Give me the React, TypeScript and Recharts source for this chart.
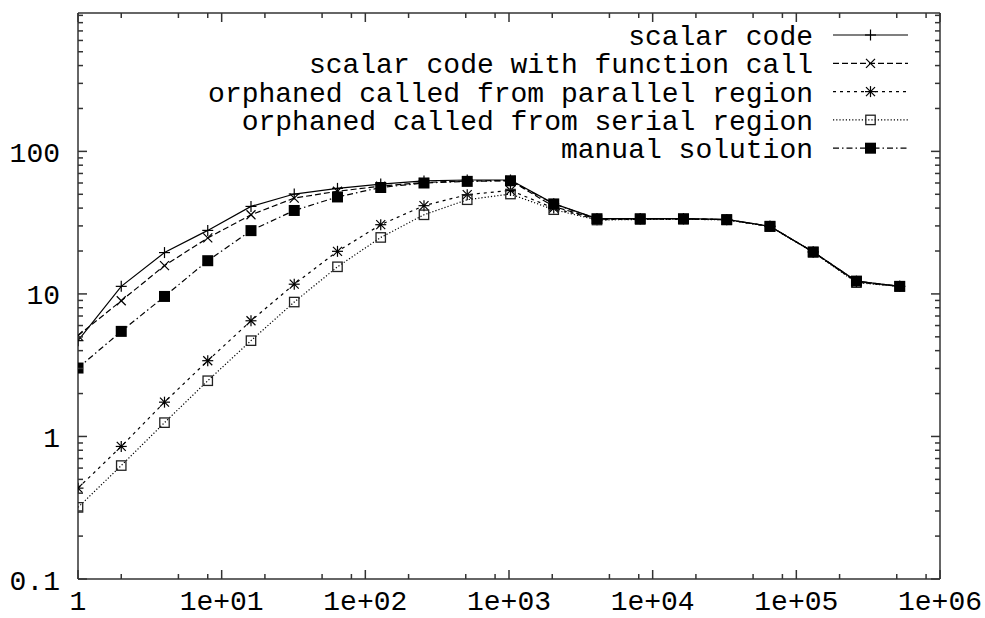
import React from 'react';
import { LineChart, Line, XAxis, YAxis } from 'recharts';

// ---- data ----
const sizes = [1, 2, 4, 8, 16, 32, 64, 128, 256, 512, 1024, 2048, 4096, 8192, 16384, 32768, 65536, 131072, 262144, 524288];
const scalarCode = [4.7, 11.3, 19.5, 27.9, 41.1, 50.2, 55, 59, 62, 63, 63, 43, 33.8, 33.8, 33.8, 33.3, 29.8, 19.7, 12.3, 11.3];
const scalarFuncCall = [5.1, 8.95, 15.8, 24.7, 35.9, 47, 52.5, 57, 60.5, 62, 62.5, 41, 33.5, 33.6, 33.6, 33.2, 29.8, 19.7, 12.2, 11.3];
const orphanedParallel = [0.434, 0.851, 1.74, 3.4, 6.48, 11.7, 19.9, 30.6, 41.6, 49.7, 53.2, 40, 33.2, 33.4, 33.5, 33.2, 29.8, 19.7, 12.1, 11.3];
const orphanedSerial = [0.318, 0.625, 1.25, 2.46, 4.7, 8.77, 15.5, 24.9, 35.9, 45.8, 50.2, 39, 33, 33.3, 33.4, 33.1, 29.7, 19.6, 12.0, 11.3];
const manualSolution = [3.02, 5.46, 9.6, 17.1, 27.8, 38.5, 47.9, 55.8, 60, 61.6, 62.2, 42.8, 33.7, 33.7, 33.7, 33.2, 29.8, 19.7, 12.3, 11.3];

const seriesNames = [
  'scalar code',
  'scalar code with function call',
  'orphaned called from parallel region',
  'orphaned called from serial region',
  'manual solution',
];
const seriesKeys = ['s0', 's1', 's2', 's3', 's4'];
const seriesValues = [scalarCode, scalarFuncCall, orphanedParallel, orphanedSerial, manualSolution];
const seriesDash = ['', '6 3', '3 4', '1.2 2', '6 3 1.5 3'];
const seriesMarker = ['plus', 'cross', 'star', 'openSquare', 'filledSquare'];

const xMajorTicks = [1, 10, 100, 1000, 10000, 100000, 1000000];
const xMajorLabels = ['1', '1e+01', '1e+02', '1e+03', '1e+04', '1e+05', '1e+06'];
const xMinorMultipliers = [2, 5, 8];
const yMajorTicks = [0.1, 1, 10, 100];
const yMajorLabels = ['0.1', '1', '10', '100'];
const yMinorMultipliers = [2, 3, 4, 5, 6, 7, 8, 9];
const xDomain = [1, 1000000];
const yDomain = [0.1, 935];

// ---- derived ----
const tableData = sizes.map((x, i) => {
  const row: any = { x };
  seriesKeys.forEach((k, j) => (row[k] = seriesValues[j][i]));
  return row;
});

const xMinorTicks: number[] = [];
xMajorTicks.slice(0, -1).forEach((m) => xMinorMultipliers.forEach((k) => xMinorTicks.push(m * k)));
const xAllTicks = [...xMajorTicks, ...xMinorTicks].sort((a, b) => a - b);

const yMinorTicks: number[] = [];
yMajorTicks.forEach((m) =>
  yMinorMultipliers.forEach((k) => {
    if (m * k <= yDomain[1]) yMinorTicks.push(m * k);
  })
);
const yAllTicks = [...yMajorTicks, ...yMinorTicks].sort((a, b) => a - b);

const majorIndex = (arr: number[], v: number) => arr.findIndex((m) => Math.abs(m - v) / m < 1e-9);

const FONT = "'Liberation Mono', 'DejaVu Sans Mono', monospace";
const FONT_SIZE = 28;
const FRAME = '#333';
const MAJOR = 9;
const MINOR = 5;

// ---- ticks ----
const XTickBottom = (p: any) => {
  const { x, y, payload } = p;
  const idx = majorIndex(xMajorTicks, payload.value);
  const len = idx >= 0 ? MAJOR : MINOR;
  return (
    <g>
      <line x1={x} x2={x} y1={y} y2={y - len} stroke={FRAME} strokeWidth={1.5} />
      {idx >= 0 && (
        <text x={x} y={y + 31} textAnchor="middle" fontFamily={FONT} fontSize={FONT_SIZE} fill="#000">
          {xMajorLabels[idx]}
        </text>
      )}
    </g>
  );
};
const XTickTop = (p: any) => {
  const { x, y, payload } = p;
  const idx = majorIndex(xMajorTicks, payload.value);
  const len = idx >= 0 ? MAJOR : MINOR;
  return <line x1={x} x2={x} y1={y} y2={y + len} stroke={FRAME} strokeWidth={1.5} />;
};
const YTickLeft = (p: any) => {
  const { x, y, payload } = p;
  const idx = majorIndex(yMajorTicks, payload.value);
  const len = idx >= 0 ? MAJOR : MINOR;
  return (
    <g>
      <line x1={x} x2={x + len} y1={y} y2={y} stroke={FRAME} strokeWidth={1.5} />
      {idx >= 0 && (
        <text x={x - 18} y={y + 10.5} textAnchor="end" fontFamily={FONT} fontSize={FONT_SIZE} fill="#000">
          {yMajorLabels[idx]}
        </text>
      )}
    </g>
  );
};
const YTickRight = (p: any) => {
  const { x, y, payload } = p;
  const idx = majorIndex(yMajorTicks, payload.value);
  const len = idx >= 0 ? MAJOR : MINOR;
  return <line x1={x} x2={x - len} y1={y} y2={y} stroke={FRAME} strokeWidth={1.5} />;
};

// ---- markers ----
const Marker = ({ kind, cx, cy }: { kind: string; cx: number; cy: number }) => {
  if (cx == null || cy == null || isNaN(cx) || isNaN(cy)) return <g />;
  const sw = 1.2;
  switch (kind) {
    case 'plus':
      return (
        <g stroke="#000" strokeWidth={sw}>
          <line x1={cx - 5.5} x2={cx + 5.5} y1={cy} y2={cy} />
          <line x1={cx} x2={cx} y1={cy - 5.5} y2={cy + 5.5} />
        </g>
      );
    case 'cross':
      return (
        <g stroke="#000" strokeWidth={sw}>
          <line x1={cx - 4.5} x2={cx + 4.5} y1={cy - 4.5} y2={cy + 4.5} />
          <line x1={cx - 4.5} x2={cx + 4.5} y1={cy + 4.5} y2={cy - 4.5} />
        </g>
      );
    case 'star':
      return (
        <g stroke="#000" strokeWidth={sw}>
          <line x1={cx - 5.5} x2={cx + 5.5} y1={cy} y2={cy} />
          <line x1={cx} x2={cx} y1={cy - 5.5} y2={cy + 5.5} />
          <line x1={cx - 4.5} x2={cx + 4.5} y1={cy - 4.5} y2={cy + 4.5} />
          <line x1={cx - 4.5} x2={cx + 4.5} y1={cy + 4.5} y2={cy - 4.5} />
        </g>
      );
    case 'openSquare':
      return <rect x={cx - 4.7} y={cy - 4.7} width={9.4} height={9.4} fill="none" stroke="#222" strokeWidth={1.3} />;
    case 'filledSquare':
    default:
      return <rect x={cx - 5.5} y={cy - 5.5} width={11} height={11} fill="#000" />;
  }
};

const LEGEND_TEXT_RIGHT = 813;
const LEGEND_LINE_X1 = 833;
const LEGEND_LINE_X2 = 908;
const LEGEND_Y0 = 35;
const LEGEND_STEP = 28.3;

const Legend = () => (
  <svg width={985} height={618} style={{ position: 'absolute', left: 0, top: 0, pointerEvents: 'none' }}>
    {seriesNames.map((name, i) => {
      const y = LEGEND_Y0 + i * LEGEND_STEP;
      const mx = (LEGEND_LINE_X1 + LEGEND_LINE_X2) / 2;
      return (
        <g key={name}>
          <text x={LEGEND_TEXT_RIGHT} y={y + 10} textAnchor="end" fontFamily={FONT} fontSize={FONT_SIZE} fill="#000">
            {name}
          </text>
          <line
            x1={LEGEND_LINE_X1}
            x2={LEGEND_LINE_X2}
            y1={y}
            y2={y}
            stroke="#000"
            strokeWidth={1.2}
            strokeDasharray={seriesDash[i] || undefined}
          />
          <Marker kind={seriesMarker[i]} cx={mx} cy={y} />
        </g>
      );
    })}
  </svg>
);

export default function App() {
  return (
    <div style={{ position: 'absolute', left: 0, top: 0, width: 985, height: 618, background: '#fff' }}>
      <LineChart width={985} height={618} data={tableData} margin={{ top: 12, right: 44, bottom: 0, left: 0 }}>
        <XAxis
          xAxisId="b"
          dataKey="x"
          type="number"
          scale="log"
          domain={xDomain}
          allowDataOverflow
          ticks={xAllTicks}
          interval={0}
          tickSize={0}
          tickMargin={0}
          tickLine={false}
          height={39}
          axisLine={{ stroke: FRAME, strokeWidth: 1.5 }}
          tick={(p: any) => <XTickBottom {...p} />}
        />
        <XAxis
          xAxisId="t"
          orientation="top"
          dataKey="x"
          type="number"
          scale="log"
          domain={xDomain}
          allowDataOverflow
          ticks={xAllTicks}
          interval={0}
          tickSize={0}
          tickMargin={0}
          tickLine={false}
          height={1}
          axisLine={{ stroke: FRAME, strokeWidth: 1.5 }}
          tick={(p: any) => <XTickTop {...p} />}
        />
        <YAxis
          yAxisId="l"
          type="number"
          scale="log"
          domain={yDomain}
          allowDataOverflow
          ticks={yAllTicks}
          interval={0}
          tickSize={0}
          tickMargin={0}
          tickLine={false}
          width={78}
          axisLine={{ stroke: FRAME, strokeWidth: 1.5 }}
          tick={(p: any) => <YTickLeft {...p} />}
        />
        <YAxis
          yAxisId="r"
          orientation="right"
          type="number"
          scale="log"
          domain={yDomain}
          allowDataOverflow
          ticks={yAllTicks}
          interval={0}
          tickSize={0}
          tickMargin={0}
          tickLine={false}
          width={1}
          axisLine={{ stroke: FRAME, strokeWidth: 1.5 }}
          tick={(p: any) => <YTickRight {...p} />}
        />
        {seriesKeys.map((k, i) => (
          <Line
            key={k}
            xAxisId="b"
            yAxisId="l"
            dataKey={k}
            name={seriesNames[i]}
            type="linear"
            stroke="#000"
            strokeWidth={1.2}
            strokeDasharray={seriesDash[i] || undefined}
            isAnimationActive={false}
            dot={(p: any) => <Marker key={`${k}-${p.index}`} kind={seriesMarker[i]} cx={p.cx} cy={p.cy} />}
            activeDot={false}
          />
        ))}
      </LineChart>
      <Legend />
    </div>
  );
}
